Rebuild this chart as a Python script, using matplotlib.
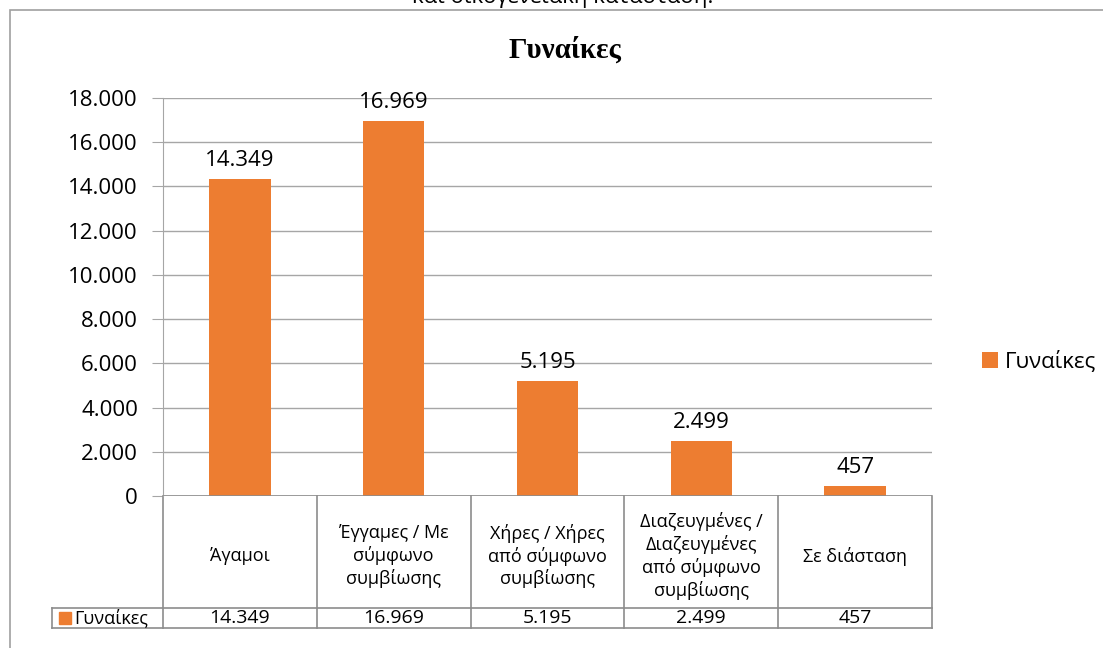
import matplotlib
matplotlib.use("Agg")
import matplotlib.pyplot as plt
from matplotlib.patches import Rectangle
from matplotlib.transforms import blended_transform_factory

plt.rcParams['font.family'] = ['Open Sans', 'DejaVu Sans']

# data
categories = ["Άγαμοι",
              "Έγγαμες / Με\nσύμφωνο\nσυμβίωσης",
              "Χήρες / Χήρες\nαπό σύμφωνο\nσυμβίωσης",
              "Διαζευγμένες /\nΔιαζευγμένες\nαπό σύμφωνο\nσυμβίωσης",
              "Σε διάσταση"]
women = [14349, 16969, 5195, 2499, 457]
series_name = "Γυναίκες"
chart_title = "Γυναίκες"
top_text = "και οικογενειακή κατάσταση."
yticks = list(range(0, 18001, 2000))

ORANGE = "#ED7D31"
GRID = "#A6A6A6"
LINE = "#8C8C8C"

W, H = 1103, 648


def fmt(v):
    return "{:,}".format(v).replace(",", ".")


def fx(px):
    return px / W


def fy(py):
    return 1 - py / H


fig = plt.figure(figsize=(W / 100, H / 100), dpi=100)

# chart frame, partly cut off
fig.patches.append(Rectangle((fx(10), fy(660)), fx(1120) - fx(10), fy(10) - fy(660),
                             transform=fig.transFigure, fill=False,
                             edgecolor="#A0A0A0", lw=1.2))
# cut-off text above the frame (the reference shows only its lower part)
fig.text(fx(563), fy(-4), top_text, ha="center", va="center", fontsize=16)

ax = fig.add_axes([fx(163), fy(496), fx(932) - fx(163), fy(98) - fy(496)])
x = list(range(len(categories)))
bars = ax.bar(x, women, width=0.4, color=ORANGE, label=series_name, zorder=3)
ax.set_xlim(-0.5, len(categories) - 0.5)
ax.set_ylim(0, 18000)
ax.set_yticks(yticks)
ax.set_yticklabels([fmt(t) for t in yticks], fontsize=16)
ax.set_xticks([])
ax.grid(axis="y", color=GRID, lw=1, zorder=0)
for s in ["top", "right", "bottom"]:
    ax.spines[s].set_visible(False)
ax.spines["left"].set_color(GRID)
ax.tick_params(axis="y", length=8, color=GRID, pad=10)
ax.axhline(0, color=LINE, lw=1.2, zorder=4)

for b, v in zip(bars, women):
    ax.text(b.get_x() + b.get_width() / 2, v + 350, fmt(v),
            ha="center", va="bottom", fontsize=16)

# chart title, centred on the frame rather than the plot area
fig.text(fx(565), fy(50), chart_title, fontsize=21, fontweight="bold",
         family="Liberation Serif", ha="center", va="center")

# data table under the axis
tr = blended_transform_factory(ax.transData, ax.transAxes)
ax_h = 496 - 98
y_head = -(608 - 496) / ax_h
y_row = -(628 - 496) / ax_h
left_lbl = -0.5 - (163 - 52) / ((932 - 163) / len(categories))
n = len(categories)
kw = dict(transform=tr, color=LINE, lw=1.2, clip_on=False)
for i in range(n + 1):
    ax.plot([i - 0.5, i - 0.5], [0, y_row], **kw)
ax.plot([left_lbl, n - 0.5], [y_head, y_head], **kw)
ax.plot([left_lbl, n - 0.5], [y_row, y_row], **kw)
ax.plot([left_lbl, left_lbl], [y_head, y_row], **kw)

for i, (c, v) in enumerate(zip(categories, women)):
    ax.text(i, y_head / 2 - 4 / ax_h, c, transform=tr, ha="center",
            va="center", fontsize=13, linespacing=1.25)
    ax.text(i, (y_head + y_row) / 2, fmt(v), transform=tr, ha="center",
            va="center", fontsize=14)

fig.patches.append(Rectangle((fx(59), fy(624)), fx(12), 12 / H,
                             transform=fig.transFigure, color=ORANGE))
fig.text(fx(74), fy(618), series_name, ha="left", va="center", fontsize=13)

# legend on the right
fig.legend(handles=[bars], labels=[series_name], loc="center left",
           bbox_to_anchor=(fx(966), fy(362)), frameon=False, fontsize=16,
           handlelength=0.75, handleheight=0.75, handletextpad=0.3,
           borderpad=0.2)

fig.savefig("out.png", dpi=100)
